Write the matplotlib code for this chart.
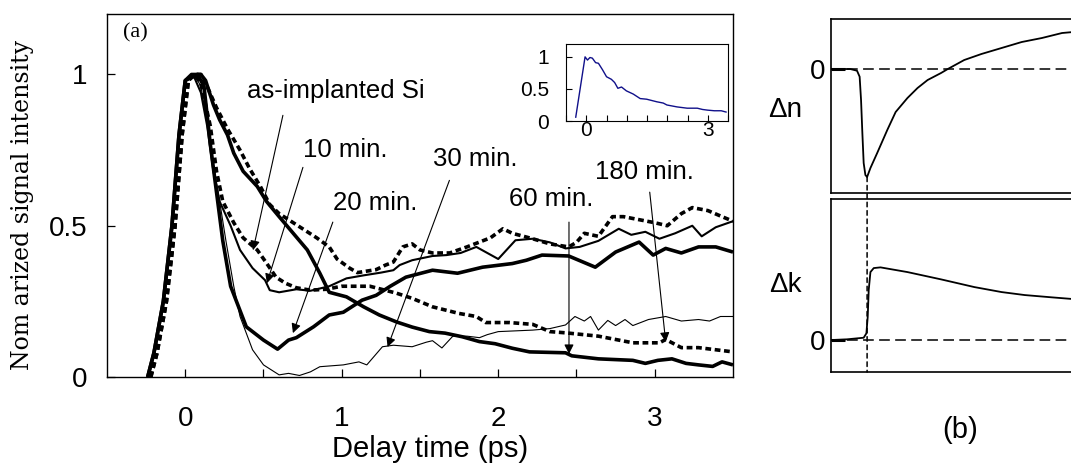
import matplotlib
matplotlib.use("Agg")
import matplotlib.pyplot as plt
from matplotlib.patches import ConnectionPatch
from matplotlib.ticker import MultipleLocator, FixedLocator

plt.rcParams["font.family"] = ["Liberation Sans", "DejaVu Sans"]

# ---- (a) normalized reflectivity traces, delay in ps ----
rise_t = [-0.24, -0.2, -0.14, -0.085, -0.04, 0.0]
rise_y = [0.0, 0.08, 0.25, 0.5, 0.8, 0.98]
rise_dash_t = [-0.22, -0.18, -0.12, -0.065, -0.02, 0.02]

t_asimpl = rise_dash_t + [0.06, 0.1, 0.14, 0.2, 0.27, 0.35, 0.41, 0.48, 0.54, 0.6, 0.69, 0.78,
                          0.84, 0.92, 0.97, 1.05, 1.1, 1.16, 1.22, 1.28, 1.33, 1.39, 1.45, 1.5,
                          1.58, 1.69, 1.8, 1.88, 1.95, 2.03, 2.09, 2.22, 2.33, 2.45, 2.5, 2.55,
                          2.64, 2.73, 2.8, 2.9, 3.0, 3.08, 3.17, 3.24, 3.34, 3.43, 3.5]
y_asimpl = rise_y + [1.0, 1.0, 0.96, 0.89, 0.82, 0.75, 0.69, 0.63, 0.57, 0.54, 0.51, 0.48,
                     0.46, 0.43, 0.39, 0.36, 0.345, 0.35, 0.355, 0.37, 0.38, 0.43, 0.44, 0.42,
                     0.41, 0.41, 0.43, 0.446, 0.46, 0.49, 0.475, 0.457, 0.44, 0.43, 0.445, 0.475,
                     0.465, 0.53, 0.53, 0.52, 0.51, 0.5, 0.54, 0.56, 0.55, 0.53, 0.515]

t_10 = rise_t + [0.05, 0.1, 0.14, 0.18, 0.22, 0.29, 0.35, 0.43, 0.51, 0.54, 0.6, 0.71, 0.8,
                 0.92, 1.03, 1.14, 1.25, 1.33, 1.37, 1.45, 1.58, 1.67, 1.76, 1.86, 2.0, 2.11,
                 2.22, 2.33, 2.43, 2.52, 2.64, 2.77, 2.85, 2.94, 3.03, 3.13, 3.24, 3.3, 3.39, 3.5]
y_10 = rise_y + [1.0, 0.94, 0.83, 0.68, 0.58, 0.5, 0.42, 0.36, 0.32, 0.287, 0.28, 0.29, 0.285,
                 0.3, 0.326, 0.336, 0.345, 0.353, 0.37, 0.386, 0.4, 0.403, 0.41, 0.43, 0.39, 0.452,
                 0.457, 0.445, 0.425, 0.43, 0.45, 0.49, 0.47, 0.48, 0.457, 0.475, 0.5, 0.465, 0.495, 0.515]

t_20 = rise_t + [0.08, 0.12, 0.16, 0.2, 0.24, 0.29, 0.39, 0.5, 0.59, 0.66, 0.71, 0.82, 0.92,
                 1.01, 1.13, 1.22, 1.31, 1.41, 1.58, 1.74, 1.9, 2.09, 2.18, 2.28, 2.45, 2.62,
                 2.75, 2.9, 2.99, 3.07, 3.17, 3.28, 3.39, 3.5]
y_20 = rise_y + [1.0, 0.96, 0.77, 0.61, 0.45, 0.3, 0.166, 0.122, 0.092, 0.122, 0.13, 0.166, 0.205,
                 0.214, 0.254, 0.27, 0.3, 0.33, 0.353, 0.343, 0.363, 0.375, 0.386, 0.403, 0.4, 0.363,
                 0.413, 0.446, 0.403, 0.425, 0.41, 0.43, 0.43, 0.413]

t_30 = rise_t + [0.06, 0.1, 0.14, 0.18, 0.22, 0.26, 0.31, 0.35, 0.43, 0.5, 0.6, 0.66, 0.73, 0.8,
                 0.86, 1.01, 1.11, 1.16, 1.26, 1.33, 1.45, 1.54, 1.58, 1.64, 1.71, 1.8, 1.88, 1.93,
                 2.0, 2.22, 2.33, 2.43, 2.49, 2.55, 2.59, 2.64, 2.7, 2.75, 2.81, 2.86, 2.96, 3.07,
                 3.17, 3.28, 3.35, 3.42, 3.5]
y_30 = rise_y + [1.0, 0.96, 0.84, 0.7, 0.58, 0.45, 0.3, 0.2, 0.09, 0.04, 0.007, 0.012, 0.005, 0.017,
                 0.034, 0.04, 0.05, 0.04, 0.1, 0.105, 0.1, 0.115, 0.12, 0.096, 0.135, 0.135, 0.13, 0.14,
                 0.15, 0.155, 0.16, 0.172, 0.2, 0.185, 0.2, 0.155, 0.187, 0.17, 0.19, 0.17, 0.19, 0.2,
                 0.185, 0.19, 0.185, 0.2, 0.2]

t_60 = rise_t + [0.04, 0.1, 0.13, 0.18, 0.22, 0.27, 0.31, 0.37, 0.46, 0.52, 0.6, 0.69, 0.78, 0.86,
                 0.92, 1.03, 1.14, 1.24, 1.35, 1.45, 1.56, 1.66, 1.77, 1.88, 1.98, 2.09, 2.2, 2.43,
                 2.47, 2.64, 2.86, 2.94, 3.02, 3.11, 3.2, 3.28, 3.37, 3.43, 3.5]
y_60 = rise_y + [1.0, 1.0, 0.98, 0.9, 0.85, 0.8, 0.74, 0.68, 0.63, 0.58, 0.53, 0.475, 0.42, 0.343,
                 0.28, 0.265, 0.232, 0.205, 0.182, 0.165, 0.15, 0.145, 0.133, 0.117, 0.11, 0.095, 0.083, 0.08,
                 0.07, 0.06, 0.055, 0.045, 0.055, 0.06, 0.045, 0.04, 0.035, 0.05, 0.04]

t_180 = rise_dash_t + [0.06, 0.1, 0.16, 0.2, 0.24, 0.31, 0.37, 0.46, 0.52, 0.58, 0.64, 0.71, 0.8,
                       0.9, 1.0, 1.18, 1.35, 1.45, 1.58, 1.75, 1.86, 1.92, 2.07, 2.22, 2.33, 2.43,
                       2.64, 2.86, 3.03, 3.07, 3.17, 3.28, 3.39, 3.5]
y_180 = rise_y + [1.0, 0.97, 0.83, 0.68, 0.58, 0.51, 0.46, 0.42, 0.376, 0.33, 0.31, 0.295, 0.287,
                  0.29, 0.3, 0.3, 0.277, 0.26, 0.232, 0.21, 0.2, 0.18, 0.18, 0.174, 0.15, 0.146,
                  0.135, 0.113, 0.113, 0.124, 0.097, 0.097, 0.09, 0.083]

# inset: reference trace
inset_t = [-0.26, -0.03, 0.03, 0.09, 0.15, 0.23, 0.3, 0.4, 0.5, 0.62, 0.7, 0.78, 0.87, 0.99,
           1.16, 1.33, 1.49, 1.74, 1.9, 1.99, 2.24, 2.49, 2.74, 2.87, 2.99, 3.16, 3.33, 3.45]
inset_y = [0.06, 1.0, 0.95, 0.99, 0.98, 0.91, 0.9, 0.8, 0.69, 0.65, 0.6, 0.51, 0.53, 0.47,
           0.42, 0.35, 0.34, 0.3, 0.28, 0.25, 0.22, 0.2, 0.2, 0.18, 0.17, 0.16, 0.16, 0.14]

labels = ["as-implanted Si", "10 min.", "20 min.", "30 min.", "60 min.", "180 min."]
label_xy = [(0.395, 0.944), (0.752, 0.749), (0.943, 0.574), (1.58, 0.72), (2.07, 0.59), (2.62, 0.677)]
arrow_from = [(0.624, 0.865), (0.752, 0.693), (0.943, 0.512), (1.688, 0.65), (2.452, 0.512), (2.968, 0.611)]
arrow_to = [(0.433, 0.419), (0.522, 0.31), (0.688, 0.145), (1.293, 0.099), (2.452, 0.076), (3.07, 0.116)]

# ---- (b) schematic delta-n / delta-k (arbitrary units) ----
b_t_n = [0.7, 19, 25.7, 28.3, 29.7, 31, 32.3, 34, 35.7, 39, 45.7, 55.7, 64, 75.7, 85.7, 95.7,
         109, 115.7, 132, 149, 169, 189, 209, 229, 240]
b_dn = [0, 0, -1.7, -7.7, -31, -64, -94, -106, -108, -99, -84, -61, -43, -29, -19, -11,
        -4, 0, 9, 15, 21, 27, 31, 36, 37]
b_t_k = [0.7, 15.7, 32.3, 35, 36.3, 37.3, 39, 42.3, 49, 75.7, 109, 142, 169, 192, 219, 240]
b_dk = [0, 0.7, 2.3, 6.7, 23, 50, 68, 72, 72.7, 68, 60.7, 53, 48, 45, 42.7, 41]
b_t_peak = 35.7

fig = plt.figure(figsize=(10.71, 4.66), dpi=100)

ax = fig.add_axes([0.0999, 0.191, 0.5845, 0.779])
thick = dict(color="black", lw=2.6, solid_capstyle="butt")
dash = dict(color="black", lw=2.6, linestyle=(0, (1.6, 1.0)))
ax.plot(t_asimpl, y_asimpl, **dash)
ax.plot(t_180, y_180, **dash)
ax.plot(t_10, y_10, color="black", lw=1.5)
ax.plot(t_20, y_20, **thick)
ax.plot(t_60, y_60, **thick)
ax.plot(t_30, y_30, color="black", lw=0.8)

for txt, xy, a0, a1 in zip(labels, label_xy, arrow_from, arrow_to):
    ax.text(xy[0], xy[1], txt, fontsize=18.5, va="center", ha="left")
    ax.annotate("", xy=a1, xytext=a0,
                arrowprops=dict(arrowstyle="-|>", lw=0.8, color="black",
                                mutation_scale=14, shrinkA=0, shrinkB=0))

ax.set_xlim(-0.5, 3.5)
ax.set_ylim(0, 1.2)
ax.xaxis.set_major_locator(FixedLocator([0, 1, 2, 3]))
ax.xaxis.set_minor_locator(FixedLocator([0.5, 1.5, 2.5]))
ax.yaxis.set_major_locator(FixedLocator([0, 0.5, 1]))
ax.set_yticklabels(["0", "0.5", "1"])
ax.tick_params(which="both", direction="in", length=6, width=0.9, labelsize=20)
ax.tick_params(axis="x", pad=21)
ax.tick_params(axis="y", pad=14)
for s in ax.spines.values():
    s.set_linewidth(1.0)
ax.text(0.026, 0.975, "(a)", transform=ax.transAxes, fontsize=16, va="top", ha="left",
        family=["Liberation Serif", "DejaVu Serif"])
fig.text(430 / 1071, 1 - 457 / 466, "Delay time (ps)", fontsize=21, ha="center", va="baseline")

fig.text(0.021, 0.56, "Nom arized signal intensity", rotation=90, fontsize=17,
         va="center", ha="center", family=["DejaVu Serif"])

axi = fig.add_axes([0.5285, 0.7403, 0.1513, 0.1652])
axi.plot(inset_t, inset_y, color="#10108a", lw=1.0)
axi.set_xlim(-0.5, 3.5)
axi.set_ylim(0, 1.2)
axi.xaxis.set_major_locator(FixedLocator([0, 3]))
axi.xaxis.set_minor_locator(MultipleLocator(0.5))
axi.yaxis.set_major_locator(FixedLocator([0, 0.5, 1]))
axi.set_yticklabels(["0", "0.5", "1"])
axi.tick_params(which="both", direction="in", length=4, width=0.8, labelsize=15, pad=0)
axi.tick_params(axis="y", pad=12)

ax_n = fig.add_axes([0.776, 0.5858, 0.226, 0.3734])
ax_k = fig.add_axes([0.776, 0.2017, 0.226, 0.371])
ax_n.plot(b_t_n, b_dn, color="black", lw=1.3)
ax_k.plot(b_t_k, b_dk, color="black", lw=1.3)
for a, lim in ((ax_n, (-124, 50)), (ax_k, (-32, 141))):
    a.axhline(0, color="black", lw=1.1, linestyle=(0, (7, 3.5)))
    a.set_xlim(0, 240)
    a.set_ylim(*lim)
    a.set_xticks([])
    a.yaxis.set_major_locator(FixedLocator([0]))
    a.tick_params(axis="y", direction="in", length=10, width=2.2, labelsize=20, pad=4)
    a.spines["right"].set_visible(False)
    for s in a.spines.values():
        s.set_linewidth(1.2)

con = ConnectionPatch(xyA=(b_t_peak, min(b_dn)), coordsA=ax_n.transData,
                      xyB=(b_t_peak, ax_k.get_ylim()[0]), coordsB=ax_k.transData,
                      color="black", lw=1.1, linestyle=(0, (3, 2.5)))
fig.add_artist(con)

fig.text(785 / 1071, 1 - 110 / 466, "\u0394n", fontsize=20, ha="center", va="center")
fig.text(785 / 1071, 1 - 285 / 466, "\u0394k", fontsize=20, ha="center", va="center")
fig.text(960 / 1071, 1 - 430 / 466, "(b)", fontsize=21, ha="center", va="center")

fig.savefig("out.png", dpi=100)
